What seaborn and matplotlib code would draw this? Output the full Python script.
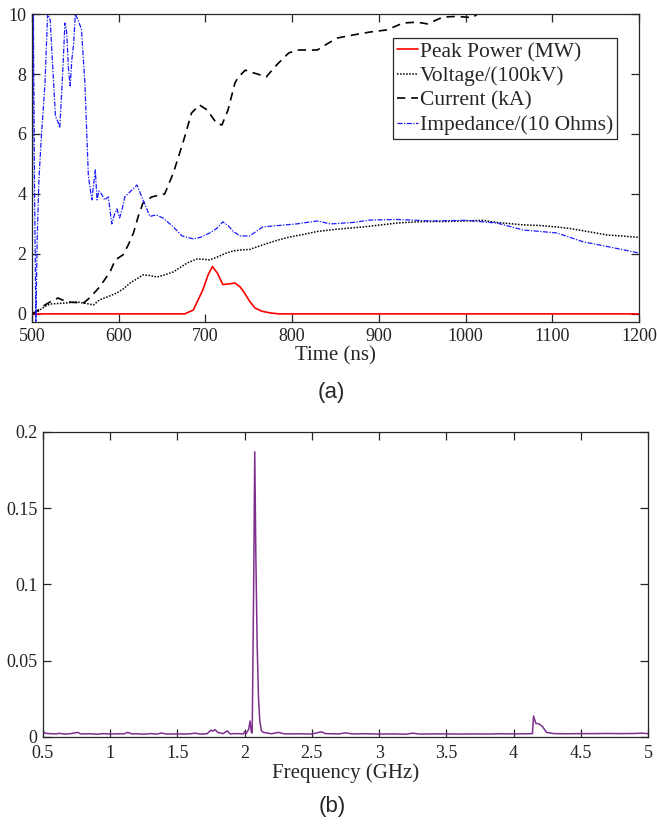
import matplotlib
matplotlib.use("Agg")
import matplotlib.pyplot as plt
import seaborn as sns
import pandas as pd
import numpy as np

# ---------------- data ----------------
power_t = [500, 676, 686, 697, 703, 708, 714, 720, 727, 734, 740, 745, 751, 757, 765, 775, 785, 1200]
power_v = [0, 0, 0.13, 0.8, 1.3, 1.58, 1.35, 0.98, 1.0, 1.03, 0.9, 0.7, 0.42, 0.2, 0.09, 0.03, 0, 0]

volt_t = [500, 506, 515, 521, 532, 545, 552, 562, 571, 578, 588, 598, 606, 613, 620, 628, 636,
          644, 653, 663, 671, 679, 690, 698, 705, 714, 724, 732, 740, 751, 766, 782, 798, 813,
          829, 850, 882, 921, 950, 974, 1000, 1020, 1036, 1066, 1085, 1105, 1120, 1136, 1150,
          1163, 1180, 1200]
volt_v = [0, 0.07, 0.25, 0.33, 0.35, 0.38, 0.4, 0.35, 0.3, 0.47, 0.58, 0.7, 0.85, 1.03, 1.15,
          1.3, 1.28, 1.23, 1.3, 1.4, 1.55, 1.7, 1.83, 1.82, 1.8, 1.9, 2.03, 2.1, 2.13, 2.15,
          2.3, 2.45, 2.57, 2.65, 2.75, 2.82, 2.9, 3.03, 3.08, 3.08, 3.1, 3.12, 3.05, 2.97,
          2.95, 2.9, 2.85, 2.77, 2.7, 2.63, 2.6, 2.55]

cur_t = [500, 506, 515, 521, 530, 540, 550, 559, 567, 578, 590, 596, 605, 611, 617, 623, 628,
         638, 645, 653, 663, 675, 684, 693, 702, 713, 719, 726, 734, 738, 746, 751, 760, 770,
         782, 796, 806, 818, 829, 840, 852, 870, 890, 909, 928, 944, 956, 974, 990, 1008,
         1016, 1030, 1200]
cur_v = [0, 0.1, 0.3, 0.4, 0.53, 0.4, 0.38, 0.35, 0.55, 0.9, 1.4, 1.8, 1.97, 2.3, 2.7, 3.3,
         3.7, 3.9, 3.95, 4.0, 4.7, 5.8, 6.7, 6.97, 6.8, 6.35, 6.3, 6.8, 7.7, 7.9, 8.13, 8.07,
         8.0, 7.9, 8.3, 8.7, 8.8, 8.8, 8.8, 9.0, 9.2, 9.3, 9.4, 9.47, 9.7, 9.73, 9.67, 9.9,
         9.92, 9.88, 10.05, 10.3, 10.8]

imp_t = [500, 501.5, 503, 504.5, 506, 508, 511, 515, 518, 521, 524, 527, 530, 532, 535, 538,
         540, 542, 544, 546, 548, 550, 553, 557, 561, 565, 569, 571, 573, 575, 577, 580, 584,
         588, 592, 595, 598, 601, 604, 607, 614, 621, 628, 636, 643, 651, 655, 663, 673, 686,
         694, 705, 713, 720, 726, 732, 740, 751, 766, 785, 805, 829, 844, 870, 890, 921, 959,
         1000, 1036, 1066, 1105, 1136, 1163, 1200]
imp_v = [0, 10.5, 4, -0.3, 2.5, 4.5, 6.0, 7.7, 10.0, 9.8, 8.2, 6.6, 6.4, 6.2, 7.8, 9.7, 9.4,
         8.2, 7.6, 8.5, 9.0, 10.0, 9.8, 9.5, 7.7, 4.6, 3.8, 4.3, 4.8, 3.8, 4.1, 4.0, 3.8, 3.9,
         3.0, 3.3, 3.5, 3.2, 3.5, 3.9, 4.1, 4.3, 3.8, 3.25, 3.3, 3.2, 3.1, 2.9, 2.6, 2.5, 2.55,
         2.7, 2.85, 3.07, 2.95, 2.75, 2.6, 2.6, 2.9, 2.95, 3.0, 3.1, 3.0, 3.05, 3.13, 3.15,
         3.1, 3.12, 3.03, 2.8, 2.7, 2.4, 2.25, 2.03]

freq = [0.5, 0.52, 0.55, 0.6, 0.62, 0.66, 0.7, 0.76, 0.78, 0.85, 0.9, 0.95, 1.0, 1.05, 1.1,
        1.13, 1.16, 1.2, 1.25, 1.3, 1.35, 1.38, 1.42, 1.5, 1.55, 1.6, 1.63, 1.67, 1.72, 1.75,
        1.765, 1.78, 1.8, 1.84, 1.87, 1.89, 1.95, 1.99, 2.0, 2.01, 2.03, 2.04, 2.05, 2.056,
        2.066, 2.075, 2.083, 2.093, 2.103, 2.113, 2.125, 2.14, 2.2, 2.25, 2.3, 2.4, 2.5, 2.57,
        2.6, 2.7, 2.75, 2.8, 2.9, 3.0, 3.1, 3.2, 3.25, 3.3, 3.4, 3.5, 3.6, 3.7, 3.8, 3.9, 4.0,
        4.1, 4.14, 4.148, 4.165, 4.19, 4.215, 4.245, 4.3, 4.4, 4.5, 4.6, 4.7, 4.8, 4.9, 4.95, 5.0]
amp = [0.0035, 0.0024, 0.0022, 0.0020, 0.0024, 0.0019, 0.0021, 0.0030, 0.0020, 0.0021, 0.0018,
       0.0022, 0.0019, 0.0021, 0.0020, 0.0030, 0.0020, 0.0021, 0.0018, 0.0022, 0.0019, 0.0026,
       0.0019, 0.0020, 0.0019, 0.0021, 0.0025, 0.0019, 0.0021, 0.0045, 0.0038, 0.0048, 0.0030,
       0.0022, 0.0040, 0.0021, 0.0022, 0.0020, 0.0035, 0.0022, 0.0050, 0.0105, 0.0030, 0.0026,
       0.09, 0.187, 0.12, 0.06, 0.025, 0.010, 0.004, 0.0030, 0.0021, 0.0030, 0.0020, 0.0021,
       0.0019, 0.0034, 0.0022, 0.0020, 0.0027, 0.0020, 0.0021, 0.0019, 0.0020, 0.0018, 0.0025,
       0.0019, 0.0020, 0.0020, 0.0019, 0.0020, 0.0019, 0.0021, 0.0020, 0.0021, 0.0022, 0.0138,
       0.0090, 0.0085, 0.0068, 0.0030, 0.0022, 0.0021, 0.0022, 0.0022, 0.0023, 0.0022, 0.0023,
       0.0025, 0.0022]

top_xticks = [500, 600, 700, 800, 900, 1000, 1100, 1200]
top_yticks = [0, 2, 4, 6, 8, 10]
bot_xticks = [0.5, 1, 1.5, 2, 2.5, 3, 3.5, 4, 4.5, 5]
bot_xlabels = ["0.5", "1", "1.5", "2", "2.5", "3", "3.5", "4", "4.5", "5"]
bot_yticks = [0, 0.05, 0.1, 0.15, 0.2]
bot_ylabels = ["0", "0.05", "0.1", "0.15", "0.2"]

# ---------------- style ----------------
sns.set_style("ticks")
plt.rcParams["font.family"] = ["Liberation Serif", "DejaVu Serif"]
plt.rcParams["xtick.direction"] = "in"
plt.rcParams["ytick.direction"] = "in"
plt.rcParams["xtick.top"] = True
plt.rcParams["ytick.right"] = True

spine_c = "#262626"
fig = plt.figure(figsize=(6.57, 8.25), dpi=100)
ax1 = fig.add_axes([0.0487, 0.6097, 0.924, 0.3733])
ax2 = fig.add_axes([0.0654, 0.1067, 0.921, 0.3697])

def style_axes(ax):
    for s in ax.spines.values():
        s.set_color(spine_c)
        s.set_linewidth(0.9)
    ax.tick_params(which="both", direction="in", top=True, right=True, length=6,
                   width=0.9, color=spine_c, labelsize=13, labelcolor="#222222", pad=4)

# ---------------- top panel ----------------
sns.lineplot(x=power_t, y=power_v, ax=ax1, color="#ff0000", lw=1.2, label="Peak Power (MW)",
             estimator=None, sort=False)
sns.lineplot(x=volt_t, y=volt_v, ax=ax1, color="black", lw=1.1, label="Voltage/(100kV)",
             estimator=None, sort=False)
sns.lineplot(x=cur_t, y=cur_v, ax=ax1, color="black", lw=1.2, label="Current (kA)",
             estimator=None, sort=False)
sns.lineplot(x=imp_t, y=imp_v, ax=ax1, color="#1a1aff", lw=0.9, label="Impedance/(10 Ohms)",
             estimator=None, sort=False)
ax1.lines[1].set_linestyle((0, (1, 1)))
ax1.lines[2].set_linestyle((0, (5, 3.5)))
ax1.lines[3].set_linestyle((0, (4, 1.2, 1, 1.2)))

ax1.set_xlim(500, 1200)
ax1.set_ylim(-0.27, 10)
ax1.set_xticks(top_xticks)
ax1.set_yticks(top_yticks)
ax1.set_xlabel("Time (ns)", fontsize=15, labelpad=1)
ax1.set_ylabel("")
style_axes(ax1)
leg = ax1.legend(loc="upper right", bbox_to_anchor=(0.964, 0.922), fontsize=15.5,
                 frameon=True, fancybox=False, edgecolor=spine_c, framealpha=1,
                 handlelength=1.0, handletextpad=0.08, labelspacing=0.2,
                 borderpad=0.18, borderaxespad=0)
leg.get_frame().set_linewidth(0.9)

# ---------------- bottom panel ----------------
sns.lineplot(x=freq, y=amp, ax=ax2, color="#7e2f8e", lw=1.1, estimator=None, sort=False)
ax2.set_xlim(0.5, 5)
ax2.set_ylim(0, 0.2)
ax2.set_xticks(bot_xticks)
ax2.set_xticklabels(bot_xlabels)
ax2.set_yticks(bot_yticks)
ax2.set_yticklabels(bot_ylabels)
ax2.set_xlabel("Frequency (GHz)", fontsize=15, labelpad=1)
ax2.set_ylabel("")
style_axes(ax2)
ax2.tick_params(axis="x", pad=6)

fig.text(0.505, 0.524, "(a)", ha="center", va="center", fontsize=16,
         family=["Liberation Sans", "DejaVu Sans"])
fig.text(0.505, 0.023, "(b)", ha="center", va="center", fontsize=16,
         family=["Liberation Sans", "DejaVu Sans"])

fig.savefig("out.png", dpi=100)
